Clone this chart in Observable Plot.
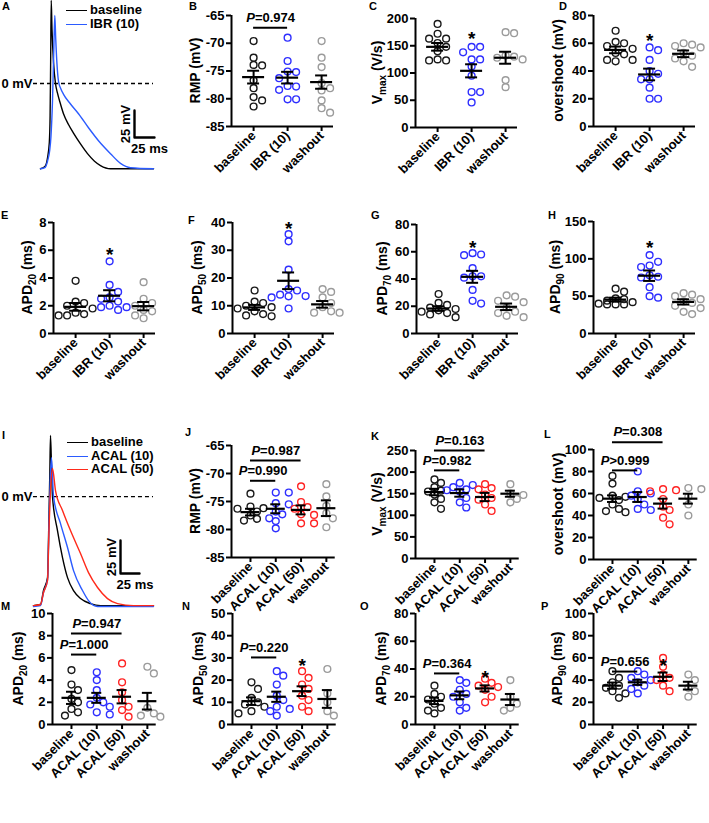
<!DOCTYPE html>
<html><head><meta charset="utf-8">
<script src="https://cdn.jsdelivr.net/npm/d3@7"></script>
<script src="https://cdn.jsdelivr.net/npm/@observablehq/plot@0.6"></script>
<style>
body{margin:0;background:#fff;}
#fig{position:relative;width:709px;height:823px;overflow:hidden;font-family:"Liberation Sans",Arial,sans-serif;font-weight:bold;color:#000;}
.plt{position:absolute;}
.lbl{position:absolute;font-size:11px;font-weight:bold;line-height:12px;}
.leg{position:absolute;font-size:13px;font-weight:bold;line-height:13.5px;white-space:nowrap;}
.leg span{display:inline-block;width:21px;height:0;border-top:1.6px solid;vertical-align:middle;margin-right:3px;}
</style></head><body><div id="fig"></div>
<script>
// ---------- categories ----------
const catsIBR = ["baseline", "IBR (10)", "washout"];
const catsACAL = ["baseline", "ACAL (10)", "ACAL (50)", "washout"];

// ---------- action potential traces (ms, mV) ----------
const apA_baseT = [12.5, 18, 21, 23.5, 24.5, 25.2, 25.9, 26.9, 28.75, 31.25, 33.75, 37.5, 41.25, 47.5, 53.75, 62.5, 71.25, 80, 87.5, 100, 153.75];
const apA_baseV = [-79, -77, -70, -55, -30, 20, 77, 50, 20, 0, -9, -19, -28, -38, -46, -56, -65, -72, -76, -79, -79];
const apA_ibrT = [12.5, 18, 21.25, 24, 25.5, 27.5, 29.1, 30.4, 31.5, 33.1, 35, 38, 41.3, 50, 60, 72.5, 85, 100, 112.5, 125, 153.75];
const apA_ibrV = [-79, -78, -72, -62, -50, -16, 31, 63, 42, 18, 2, -5, -10, -19, -28, -41, -53, -65, -74, -78, -79];

const apI_baseT = [3.9, 13.2, 17.1, 22.4, 24.1, 25.4, 26.3, 27.6, 28.9, 35.5, 42.1, 48.7, 56.6, 65.8, 78.9, 92.1, 161.8];
const apI_baseV = [-82.6, -81.8, -71.2, -61.4, -20.5, 17.4, 46.2, 23.5, 0, -25.8, -46.2, -61.4, -71.2, -77.3, -81.1, -82.6, -82.6];
const apI_a10T = [3.9, 13.2, 17.1, 22.4, 24.3, 25.9, 27.6, 30.3, 39.5, 48.7, 56.6, 68.4, 76.3, 88.2, 161.8];
const apI_a10V = [-83.3, -82.6, -72.7, -62.9, -22, 12.1, 29.5, 0, -20.5, -38.6, -56.1, -71.2, -78.8, -83.3, -83.3];
const apI_a50T = [3.9, 13.2, 17.1, 22.4, 24.3, 26.3, 28.9, 32.9, 42.1, 52.6, 65.8, 76.3, 88.2, 101.3, 114.5, 135.5, 161.8];
const apI_a50V = [-82.6, -81.8, -72.7, -63.6, -25.8, 4.5, 21.2, 4.5, -10.6, -25.8, -43.2, -57.6, -68.9, -77.3, -81.1, -82.6, -82.6];

// ---------- IBR experiment (B-H) ----------
const rmpIbr = [[-69.6, -72.6, -73.9, -74.0, -76.7, -78.1, -79.7, -80.3, -81.4],
                [-69.0, -73.2, -75.1, -75.2, -76.3, -77.7, -77.8, -78.4, -80.1, -80.1],
                [-69.6, -72.6, -74.3, -77.2, -78.1, -78.5, -80.3, -81.7, -82.5]];
const rmpIbrMean = [-76.1, -76.2, -77.0];
const rmpIbrSem = [1.15, 1.05, 1.2];

const vmaxIbr = [[190, 172, 163, 163, 155, 148, 140, 125, 123, 123],
                 [148, 148, 138, 125, 125, 112, 95, 65, 65, 46],
                 [175, 173, 132, 130, 128, 125, 87, 74]];
const vmaxIbrMean = [148, 104, 128];
const vmaxIbrSem = [7, 12, 11];

const ovsIbr = [[69, 61, 60, 58, 56, 53, 52, 48, 48, 47],
                [57, 55, 48, 40, 38, 34, 34, 28, 20, 20],
                [60, 59, 58, 57, 53, 51, 49, 47, 43]];
const ovsIbrMean = [55.2, 37.5, 52.4];
const ovsIbrSem = [2.4, 4.2, 2.4];

const apd20Ibr = [[3.8, 2.3, 2.2, 2.0, 1.8, 1.5, 1.4, 1.3, 1.3],
                  [5.2, 3.5, 3.0, 2.6, 2.5, 2.3, 2.0, 1.9, 1.9, 1.7],
                  [3.7, 2.5, 2.2, 2.0, 1.7, 1.6, 1.3, 1.1]];
const apd20IbrMean = [1.92, 2.72, 1.97];
const apd20IbrSem = [0.28, 0.4, 0.3];

const apd50Ibr = [[15.5, 11.5, 11, 10, 9.5, 9, 8, 7, 6.5, 6.2],
                  [35.8, 33.2, 23, 16, 15.5, 14, 13.5, 13, 13.4, 9],
                  [16, 15, 13, 11, 9.5, 8, 7.5, 7.5]];
const apd50IbrMean = [9.4, 19, 10.5];
const apd50IbrSem = [0.9, 3, 1.2];

const apd70Ibr = [[29, 22.5, 21, 19, 18, 17, 16, 15, 14, 12],
                  [59, 58, 57.5, 48, 42, 42, 41, 32, 24, 22],
                  [28, 27, 24, 23, 19, 16, 15, 13, 12]];
const apd70IbrMean = [18.3, 41.6, 19.6];
const apd70IbrSem = [1.7, 4.4, 2.4];

const apd90Ibr = [[60, 56, 47, 46, 44, 42, 40, 39, 39, 39],
                  [105, 96, 91, 89, 78, 76, 75, 62, 50, 48],
                  [54, 52, 50, 46, 43, 41, 37, 34, 29, 26]];
const apd90IbrMean = [45.4, 77.4, 42.3];
const apd90IbrSem = [2.6, 7, 3.5];

// ---------- ACAL experiment (J-P) ----------
const rmpAcal = [[-73.6, -75.9, -76.2, -76.3, -76.8, -77.5, -78.1, -78.4],
                 [-73.4, -73.4, -75.3, -75.5, -76.8, -77.3, -78.0, -78.5, -79.8],
                 [-72.3, -75.1, -76.0, -76.3, -77.3, -77.4, -78.9, -78.9],
                 [-71.9, -74.1, -75.8, -77.1, -78.0, -79.6]];
const rmpAcalMean = [-76.9, -76.3, -76.5, -76.2];
const rmpAcalSem = [0.6, 0.8, 0.8, 1.4];

const vmaxAcal = [[183, 175, 165, 157, 155, 148, 138, 130, 115],
                  [175, 170, 165, 160, 158, 155, 140, 130, 118],
                  [172, 163, 160, 148, 140, 136, 125, 110],
                  [172, 150, 147, 138, 130]];
const vmaxAcalMean = [153.8, 151.5, 142.3, 150];
const vmaxAcalSem = [7.5, 8.5, 9.5, 7];

const ovsAcal = [[76, 69, 58, 57, 56, 54, 50, 46, 44, 43],
                 [80, 62, 60, 58, 55, 50, 46, 45],
                 [64, 63, 62, 55, 48, 45, 38, 32],
                 [65, 64, 57, 50, 40]];
const ovsAcalMean = [55.3, 56.8, 50.8, 55.3];
const ovsAcalSem = [3, 4.5, 4.5, 4.5];

const apd20Acal = [[4.9, 3.6, 3.1, 2.3, 2.0, 1.4, 1.1, 0.8],
                   [4.7, 4.0, 3.1, 2.4, 2.0, 1.8, 1.6, 1.1, 0.9],
                   [5.5, 3.8, 2.9, 2.2, 1.6, 1.3, 0.7],
                   [5.2, 4.6, 1.5, 1.0, 0.8, 0.7]];
const apd20AcalMean = [2.4, 2.4, 2.5, 2.1];
const apd20AcalSem = [0.55, 0.45, 0.6, 0.75];

const apd50Acal = [[19, 16, 12, 10, 9, 8, 6, 5],
                   [24, 22, 18, 13, 11, 8, 7, 6, 4],
                   [24, 21, 18, 16, 13, 11, 8, 6],
                   [25, 14, 10, 6, 4]];
const apd50AcalMean = [10.5, 12.5, 15, 11.5];
const apd50AcalSem = [1.7, 2.3, 2.2, 4];

const apd70Acal = [[28, 22, 20, 18, 15, 12, 10, 8],
                   [32, 30, 25, 22, 20, 16, 12, 10],
                   [33, 30, 28, 27, 25, 20, 16],
                   [32, 20, 15, 12, 10]];
const apd70AcalMean = [17, 21, 26, 18];
const apd70AcalSem = [2.3, 2.8, 2.2, 4];

const apd90Acal = [[48, 42, 38, 35, 33, 30, 28, 24],
                   [48, 45, 42, 40, 38, 35, 32, 28],
                   [60, 52, 45, 42, 40, 35, 30],
                   [45, 40, 33, 30, 25]];
const apd90AcalMean = [35, 38, 43, 35];
const apd90AcalSem = [2.8, 2.3, 3.8, 3.5];

// ---------- statistics annotations ----------
const pB = [{a: 1, b: 2, y: -67.2, label: "P=0.974"}];
const pJ = [{a: 1, b: 2, y: -71.3, label: "P=0.990"}, {a: 1, b: 3, y: -67.7, label: "P=0.987"}];
const pK = [{a: 1, b: 2, y: 204, label: "P=0.982"}, {a: 1, b: 3, y: 250, label: "P=0.163"}];
const pL = [{a: 1, b: 2, y: 81, label: "P>0.999"}, {a: 1, b: 3, y: 106.6, label: "P=0.308"}];
const pM = [{a: 1, b: 2, y: 6.3, label: "P=1.000"}, {a: 1, b: 3, y: 8.2, label: "P=0.947"}];
const pN = [{a: 1, b: 2, y: 30.2, label: "P=0.220"}];
const pO = [{a: 1, b: 2, y: 36.8, label: "P=0.364"}];
const pP = [{a: 1, b: 2, y: 47.7, label: "P=0.656"}];
const starC = [{i: 2, y: 172}], starD = [{i: 2, y: 65}], starE = [{i: 2, y: 6.0}], starF = [{i: 2, y: 39.4}];
const starG = [{i: 2, y: 66.5}], starH = [{i: 2, y: 122}], starN = [{i: 3, y: 28.8}], starO = [{i: 3, y: 37.5}], starP = [{i: 3, y: 57.7}];

// ---------- ticks ----------
const ticksRmp = [-85, -80, -75, -70, -65];

// ---------- styles ----------
const colIBR = ["#1a1a1a", "#2f2fff", "#9b9b9b"];
const colACAL = ["#1a1a1a", "#2f2fff", "#ff2323", "#9b9b9b"];
const svgStyle = {background: "none", overflow: "visible", fontFamily: "'Liberation Sans', Arial, sans-serif", fontWeight: "bold", fontSize: "13px", color: "#000", maxWidth: "none"};

const fig = document.getElementById("fig");
function place(el, left, top) {
  el.classList.add("plt");
  el.style.position = "absolute";
  el.style.left = left + "px";
  el.style.top = top + "px";
  fig.appendChild(el);
}

const ML = 62, MR = 14, MT = 44, MB = 90;

function italicP(svg) {
  d3.select(svg).selectAll("text").each(function () {
    const t = this.textContent;
    if (/^P[=>]/.test(t) && this.children.length === 0) {
      const el = d3.select(this);
      el.text("");
      el.append("tspan").attr("font-style", "italic").text("P");
      el.append("tspan").text(t.slice(1));
    }
  });
}

function dotPanel(p) {
  const n = p.cats.length;
  const g = n === 3 ? {unit: 34, lo: 0.35, hi: 3.35, mhw: 11, chw: 6, col: 8.5}
                    : {unit: 25.3, lo: 0.25, hi: 4.35, mhw: 9.5, chw: 5, col: 6.5};
  const fw = (g.hi - g.lo) * g.unit;
  const ph = p.by - p.ty;
  const W = ML + fw + MR, H = MT + ph + MB;
  const [y0, y1] = p.yDomain;
  const kY = ph / (y1 - y0);
  const pts = [];
  p.groups.forEach((vals, gi) => {
    const placed = [];
    vals.slice().sort((a, b) => b - a).forEach(v => {
      const py = v * kY;
      let best = null, bestD = -1;
      for (const k of [0, 1, -1, 2, -2]) {
        const px = k * g.col;
        const dmin = placed.length ? Math.min(...placed.map(q => Math.hypot(q.px - px, q.py - py))) : Infinity;
        if (dmin >= 7) { best = px; break; }
        if (dmin > bestD) { bestD = dmin; best = px; }
      }
      placed.push({px: best, py});
      pts.push({x: gi + 1 + best / g.unit, v, gi});
    });
  });
  const summ = p.means.map((m, i) => ({i: i + 1, m, s: p.sems[i]}));
  const mw = g.mhw / g.unit, cw = g.chw / g.unit;
  const marks = [
    Plot.ruleX([g.lo], {y1: y0, y2: y1, strokeWidth: 2}),
    Plot.ruleY([y0], {x1: g.lo, x2: g.hi, strokeWidth: 2}),
    Plot.axisY({ticks: p.yTicks, tickFormat: d => String(d), tickSize: 5, tickPadding: 2, strokeWidth: 2, label: null}),
    Plot.axisX({ticks: d3.range(1, n + 1), tickFormat: i => p.cats[i - 1], tickRotate: -45, tickSize: 5, tickPadding: 2, strokeWidth: 2, label: null}),
    ...p.colors.map((c, gi) => Plot.dot(pts.filter(d => d.gi === gi), {x: "x", y: "v", r: 3.4, stroke: c, strokeWidth: 1.4, fill: "none"})),
    Plot.ruleY(summ, {y: "m", x1: d => d.i - mw, x2: d => d.i + mw, strokeWidth: 2.2}),
    Plot.ruleX(summ, {x: "i", y1: d => d.m - d.s, y2: d => d.m + d.s, strokeWidth: 2}),
    Plot.ruleY(summ, {y: d => d.m + d.s, x1: d => d.i - cw, x2: d => d.i + cw, strokeWidth: 2}),
    Plot.ruleY(summ, {y: d => d.m - d.s, x1: d => d.i - cw, x2: d => d.i + cw, strokeWidth: 2})
  ];
  if (p.brackets) {
    marks.push(Plot.ruleY(p.brackets, {y: "y", x1: "a", x2: "b", strokeWidth: 2}));
    marks.push(Plot.text(p.brackets, {x: d => (d.a + d.b) / 2, y: "y", text: "label", dy: -10, fontSize: 13}));
  }
  if (p.stars) {
    marks.push(Plot.text(p.stars, {x: "i", y: "y", text: () => "*", fontSize: 19, dy: 5}));
  }
  const svg = Plot.plot({
    width: W, height: H, marginLeft: ML, marginRight: MR, marginTop: MT, marginBottom: MB,
    x: {domain: [g.lo, g.hi]}, y: {domain: [y0, y1]},
    style: svgStyle, marks
  });
  italicP(svg);
  const lab = d3.select(svg).append("text")
    .attr("transform", `translate(${ML - p.labOff + 5},${MT + ph / 2}) rotate(-90)`)
    .attr("text-anchor", "middle").attr("font-size", 14).attr("fill", "#000");
  p.label.forEach((seg, k) => {
    const t = lab.append("tspan").text(seg);
    if (k % 2 === 1) t.attr("font-size", 10).attr("dy", 4);
    else if (k > 0) t.attr("dy", -4);
  });
  place(svg, p.ax - ML, p.ty - MT);
}

function tracePanel(c) {
  const sb = c.bar;
  const marks = [
    Plot.ruleY([0], {x1: c.zeroFrom, x2: c.zeroTo, stroke: "#000", strokeWidth: 1.3, strokeDasharray: "4,3"}),
    Plot.text(["0 mV"], {x: c.zeroFrom, y: 0, text: d => d, textAnchor: "end", dx: -1, fontSize: 13}),
    ...c.traces.map(tr => Plot.line(tr.t.map((t, k) => ({t, v: tr.v[k]})), {x: "t", y: "v", stroke: tr.color, strokeWidth: 1.4, curve: "monotone-x"})),
    Plot.line([{t: sb.t0, v: sb.v0 + sb.dv}, {t: sb.t0, v: sb.v0}, {t: sb.t0 + sb.dt, v: sb.v0}], {x: "t", y: "v", stroke: "#000", strokeWidth: 2.4}),
    Plot.text([sb.dv + " mV"], {x: sb.t0, y: sb.v0 + sb.dv / 2, text: d => d, rotate: -90, dx: -9, fontSize: 13}),
    Plot.text([sb.dt + " ms"], {x: sb.t0 + sb.dt / 2, y: sb.v0, text: d => d, dx: 5, dy: 11, fontSize: 13})
  ];
  const svg = Plot.plot({
    width: c.width, height: c.height, marginLeft: c.ml, marginRight: c.mr, marginTop: 0, marginBottom: 0,
    x: {domain: c.xDomain, axis: null}, y: {domain: c.yDomain, axis: null},
    style: svgStyle, marks
  });
  place(svg, c.left, c.top);
  const leg = document.createElement("div");
  leg.className = "leg";
  leg.style.left = c.legLeft + "px";
  leg.style.top = c.legTop + "px";
  leg.innerHTML = c.traces.map(tr => `<div><span style="border-color:${tr.color}"></span>${tr.name}</div>`).join("");
  fig.appendChild(leg);
}

// ---------- panel A ----------
tracePanel({
  left: 0, top: 0, width: 170, height: 170, ml: 30, mr: 10,
  xDomain: [0, 162.5], yDomain: [-80.6, 76.9],
  zeroFrom: 3.75, zeroTo: 153.75,
  bar: {t0: 130, v0: -50, dt: 25, dv: 25},
  legLeft: 66, legTop: 3,
  traces: [
    {name: catsIBR[0], t: apA_baseT, v: apA_baseV, color: "#000"},
    {name: catsIBR[1], t: apA_ibrT, v: apA_ibrV, color: "#2b5bff"}
  ]
});

// ---------- panel I ----------
tracePanel({
  left: 0, top: 420, width: 170, height: 200, ml: 30, mr: 10,
  xDomain: [0, 171], yDomain: [-93.9, 57.6],
  zeroFrom: 3.9, zeroTo: 161.8,
  bar: {t0: 118.4, v0: -58.3, dt: 25, dv: 25},
  legLeft: 67, legTop: 435,
  traces: [
    {name: catsACAL[0], t: apI_baseT, v: apI_baseV, color: "#000"},
    {name: catsACAL[1], t: apI_a10T, v: apI_a10V, color: "#2b5bff"},
    {name: catsACAL[2], t: apI_a50T, v: apI_a50V, color: "#ff2a1a"}
  ]
});

// ---------- dot panels ----------
const panels = [
  {cats: catsIBR, colors: colIBR, groups: rmpIbr, means: rmpIbrMean, sems: rmpIbrSem, yDomain: [-85, -65], yTicks: ticksRmp, label: ["RMP (mV)"], ax: 231, ty: 15, by: 126, labOff: 36, brackets: pB},
  {cats: catsIBR, colors: colIBR, groups: vmaxIbr, means: vmaxIbrMean, sems: vmaxIbrSem, yDomain: [0, 200], yTicks: [0, 50, 100, 150, 200], label: ["V", "max", " (V/s)"], ax: 415, ty: 18, by: 127, labOff: 38, stars: starC},
  {cats: catsIBR, colors: colIBR, groups: ovsIbr, means: ovsIbrMean, sems: ovsIbrSem, yDomain: [0, 80], yTicks: [0, 20, 40, 60, 80], label: ["overshoot (mV)"], ax: 593, ty: 15, by: 126, labOff: 35, stars: starD},
  {cats: catsIBR, colors: colIBR, groups: apd20Ibr, means: apd20IbrMean, sems: apd20IbrSem, yDomain: [0, 8], yTicks: [0, 2, 4, 6, 8], label: ["APD", "20", " (ms)"], ax: 53, ty: 222, by: 333, labOff: 26, stars: starE},
  {cats: catsIBR, colors: colIBR, groups: apd50Ibr, means: apd50IbrMean, sems: apd50IbrSem, yDomain: [0, 40], yTicks: [0, 10, 20, 30, 40], label: ["APD", "50", " (ms)"], ax: 232, ty: 222, by: 333, labOff: 35, stars: starF},
  {cats: catsIBR, colors: colIBR, groups: apd70Ibr, means: apd70IbrMean, sems: apd70IbrSem, yDomain: [0, 80], yTicks: [0, 20, 40, 60, 80], label: ["APD", "70", " (ms)"], ax: 416, ty: 224, by: 333, labOff: 34, stars: starG},
  {cats: catsIBR, colors: colIBR, groups: apd90Ibr, means: apd90IbrMean, sems: apd90IbrSem, yDomain: [0, 150], yTicks: [0, 50, 100, 150], label: ["APD", "90", " (ms)"], ax: 593, ty: 221, by: 333, labOff: 38, stars: starH},
  {cats: catsACAL, colors: colACAL, groups: rmpAcal, means: rmpAcalMean, sems: rmpAcalSem, yDomain: [-85, -65], yTicks: ticksRmp, label: ["RMP (mV)"], ax: 231, ty: 445, by: 557, labOff: 36, brackets: pJ},
  {cats: catsACAL, colors: colACAL, groups: vmaxAcal, means: vmaxAcalMean, sems: vmaxAcalSem, yDomain: [0, 250], yTicks: [0, 50, 100, 150, 200, 250], label: ["V", "max", " (V/s)"], ax: 415, ty: 450, by: 558, labOff: 38, brackets: pK},
  {cats: catsACAL, colors: colACAL, groups: ovsAcal, means: ovsAcalMean, sems: ovsAcalSem, yDomain: [0, 100], yTicks: [0, 20, 40, 60, 80, 100], label: ["overshoot (mV)"], ax: 593, ty: 449, by: 559, labOff: 35, brackets: pL},
  {cats: catsACAL, colors: colACAL, groups: apd20Acal, means: apd20AcalMean, sems: apd20AcalSem, yDomain: [0, 10], yTicks: [0, 2, 4, 6, 8, 10], label: ["APD", "20", " (ms)"], ax: 52, ty: 613, by: 724, labOff: 34, brackets: pM},
  {cats: catsACAL, colors: colACAL, groups: apd50Acal, means: apd50AcalMean, sems: apd50AcalSem, yDomain: [0, 50], yTicks: [0, 10, 20, 30, 40, 50], label: ["APD", "50", " (ms)"], ax: 232, ty: 613, by: 724, labOff: 34, brackets: pN, stars: starN},
  {cats: catsACAL, colors: colACAL, groups: apd70Acal, means: apd70AcalMean, sems: apd70AcalSem, yDomain: [0, 80], yTicks: [0, 20, 40, 60, 80], label: ["APD", "70", " (ms)"], ax: 415, ty: 613, by: 724, labOff: 34, brackets: pO, stars: starO},
  {cats: catsACAL, colors: colACAL, groups: apd90Acal, means: apd90AcalMean, sems: apd90AcalSem, yDomain: [0, 100], yTicks: [0, 20, 40, 60, 80, 100], label: ["APD", "90", " (ms)"], ax: 593, ty: 613, by: 724, labOff: 36, brackets: pP, stars: starP}
];
panels.forEach(dotPanel);

// ---------- panel letters ----------
const letters = [["A", 2, 0], ["B", 189, 0], ["C", 369, 0], ["D", 559, 0],
  ["E", 1, 209], ["F", 188, 214], ["G", 371, 209], ["H", 548, 209],
  ["I", 2, 429], ["J", 185, 426], ["K", 371, 430], ["L", 544, 428],
  ["M", 1, 600], ["N", 182, 600], ["O", 360, 600], ["P", 541, 600]];
letters.forEach(([t, x, y]) => {
  const d = document.createElement("div");
  d.className = "lbl";
  d.textContent = t;
  d.style.left = x + "px";
  d.style.top = y + "px";
  fig.appendChild(d);
});
</script></body></html>
